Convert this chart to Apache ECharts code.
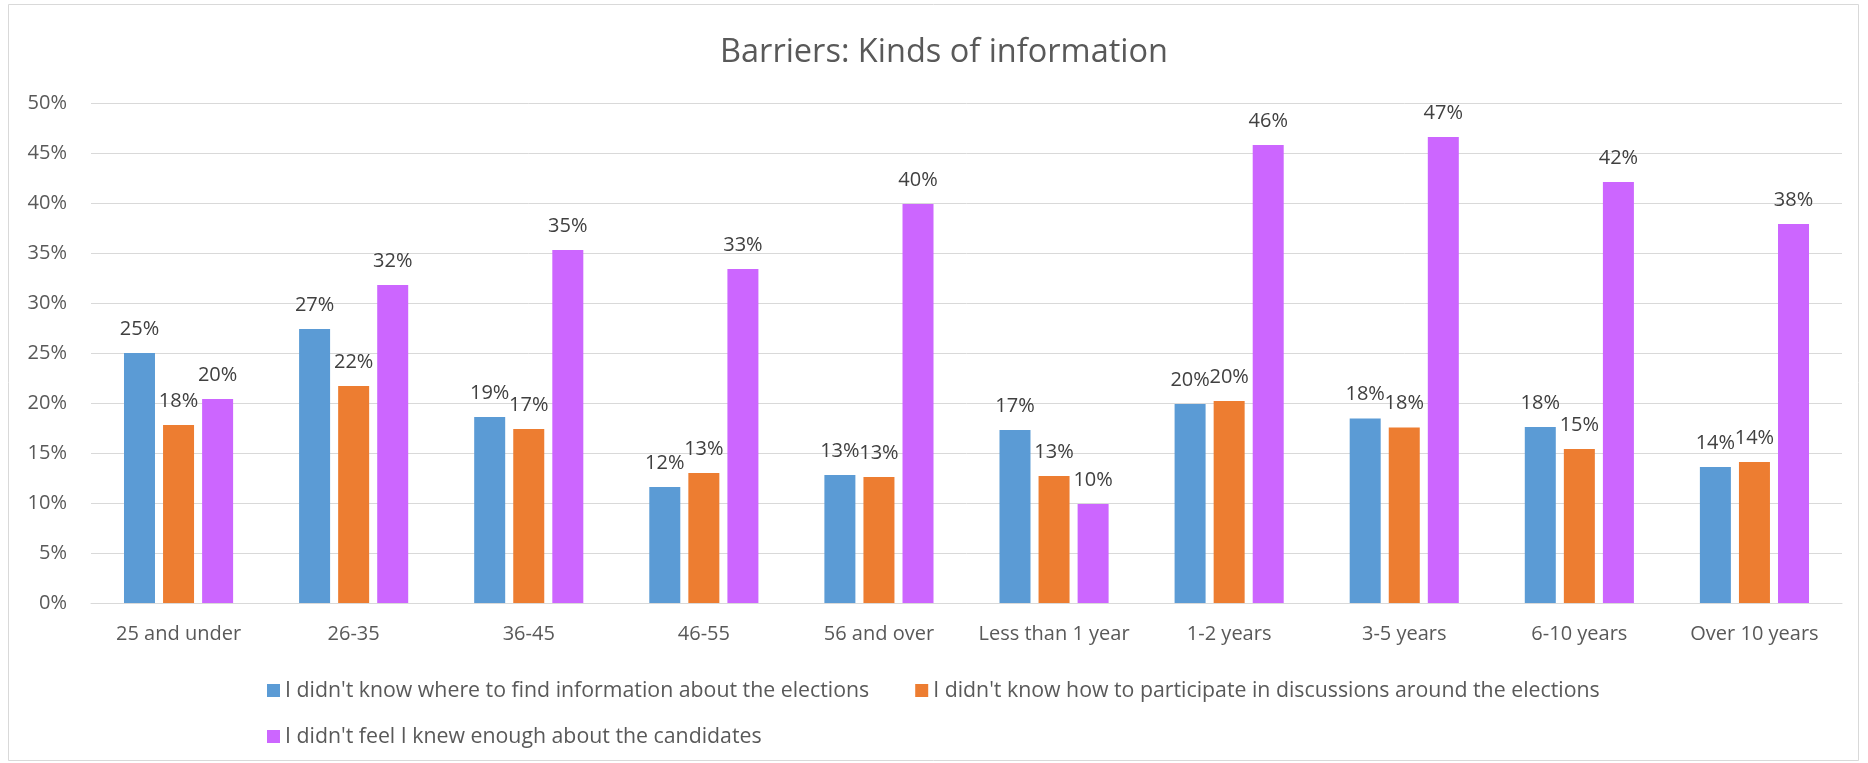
<!DOCTYPE html>
<html>
<head>
<meta charset="utf-8">
<script src="https://cdn.jsdelivr.net/npm/echarts@6/dist/echarts.min.js"></script>
<style>
html,body{margin:0;padding:0;background:#fff;}
#chart{width:1868px;height:763px;}
</style>
</head>
<body>
<div id="chart"></div>
<script>
const title = 'Barriers: Kinds of information';
const categories = ['25 and under','26-35','36-45','46-55','56 and over','Less than 1 year','1-2 years','3-5 years','6-10 years','Over 10 years'];
const seriesNames = [
  "I didn't know where to find information about the elections",
  "I didn't know how to participate in discussions around the elections",
  "I didn't feel I knew enough about the candidates"
];
const whereToFind = [25.0, 27.4, 18.6, 11.6, 12.8, 17.3, 19.9, 18.45, 17.6, 13.6];
const howToParticipate = [17.8, 21.7, 17.4, 13.0, 12.6, 12.7, 20.2, 17.55, 15.4, 14.1];
const knewEnough = [20.4, 31.8, 35.3, 33.4, 39.9, 9.9, 45.8, 46.6, 42.1, 37.9];
const yTicks = [0, 5, 10, 15, 20, 25, 30, 35, 40, 45, 50];
const colors = ['#5B9BD5', '#ED7D31', '#CC66FF'];

const FONT = 'Open Sans';
const chart = echarts.init(document.getElementById('chart'), null, {renderer: 'canvas'});

function mkSeries(name, data, color) {
  return {
    name: name,
    type: 'bar',
    data: data,
    barWidth: 31,
    barGap: '26%',
    itemStyle: {color: color},
    label: {
      show: true,
      position: 'top',
      distance: 14,
      color: '#404040',
      fontFamily: FONT,
      fontSize: 20,
      formatter: p => Math.round(p.value) + '%'
    },
    emphasis: {disabled: true}
  };
}

chart.setOption({
  animation: false,
  backgroundColor: '#fff',
  graphic: [{
    type: 'rect',
    shape: {x: 8.5, y: 4.5, width: 1850, height: 756},
    style: {fill: 'none', stroke: '#d9d9d9', lineWidth: 1},
    silent: true
  }],
  title: {
    text: title,
    left: 939,
    textAlign: 'center',
    top: 31,
    textStyle: {fontFamily: FONT, fontSize: 32.5, fontWeight: 'normal', color: '#595959'}
  },
  grid: {left: 91, right: 26, top: 103, bottom: 160, containLabel: false},
  xAxis: {
    type: 'category',
    data: categories,
    axisLine: {lineStyle: {color: '#d9d9d9', width: 1}},
    axisTick: {show: false},
    axisLabel: {color: '#595959', fontFamily: FONT, fontSize: 20, margin: 21, interval: 0}
  },
  yAxis: {
    type: 'value',
    min: yTicks[0],
    max: yTicks[yTicks.length - 1],
    interval: yTicks[1] - yTicks[0],
    axisLine: {show: false},
    axisTick: {show: false},
    axisLabel: {color: '#595959', fontFamily: FONT, fontSize: 20, margin: 24, formatter: '{value}%'},
    splitLine: {lineStyle: {color: '#d9d9d9', width: 1}}
  },
  legend: [{
    data: [seriesNames[0], seriesNames[1]],
    left: 262,
    top: 675,
    icon: 'rect',
    itemWidth: 13,
    itemHeight: 13,
    itemGap: 46,
    textStyle: {color: '#595959', fontFamily: FONT, fontSize: 21.3},
    selectedMode: false
  }, {
    data: [seriesNames[2]],
    left: 262,
    top: 721,
    icon: 'rect',
    itemWidth: 13,
    itemHeight: 13,
    textStyle: {color: '#595959', fontFamily: FONT, fontSize: 21.3},
    selectedMode: false
  }],
  series: [
    mkSeries(seriesNames[0], whereToFind, colors[0]),
    mkSeries(seriesNames[1], howToParticipate, colors[1]),
    mkSeries(seriesNames[2], knewEnough, colors[2])
  ]
});
</script>
</body>
</html>
